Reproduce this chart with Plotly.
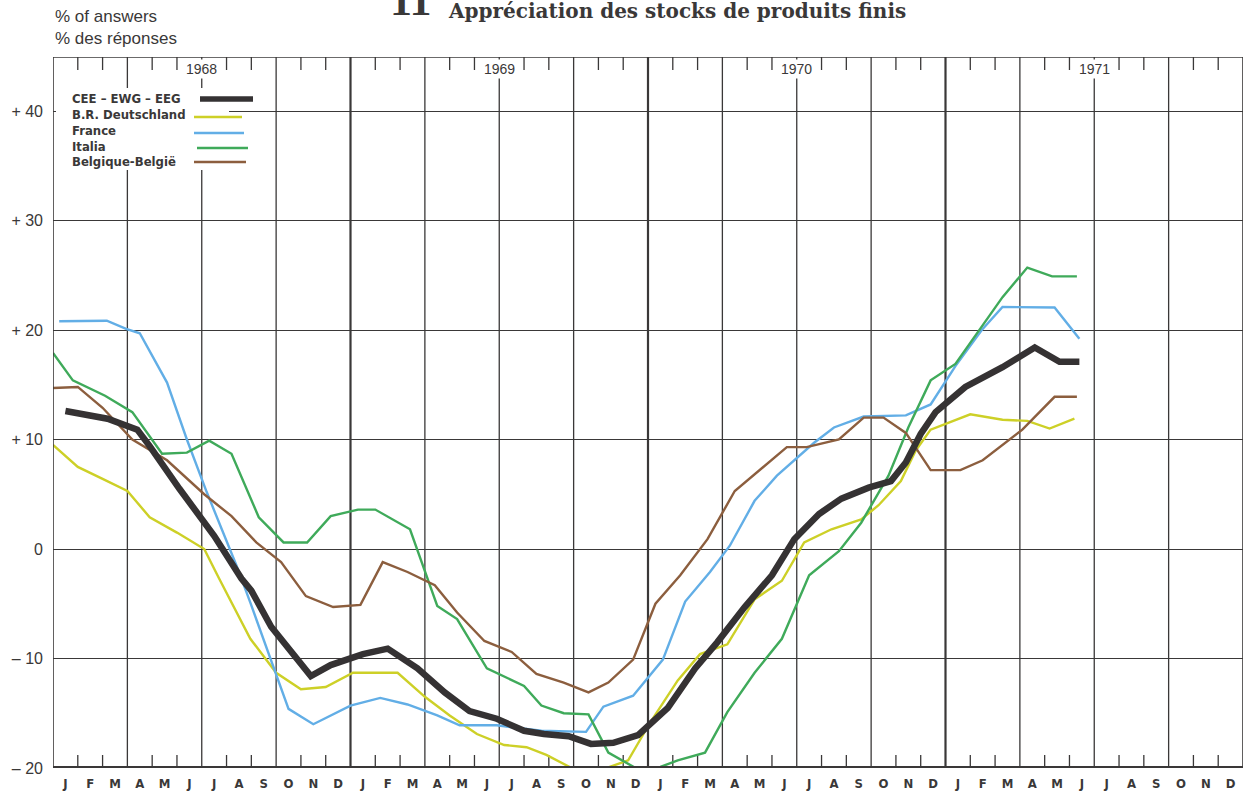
import plotly.graph_objects as go

# ---------------- data (x = months since start of Jan 1968, 0.5 = mid-January) ----------------
month_letters = ["J", "F", "M", "A", "M", "J", "J", "A", "S", "O", "N", "D"] * 4
year_labels = ["1968", "1969", "1970", "1971"]
y_ticks = [-20, -10, 0, 10, 20, 30, 40]
y_tick_text = ["\u2013 20", "\u2013 10", "0", "+ 10", "+ 20", "+ 30", "+ 40"]

series_names = ["CEE \u2013 EWG \u2013 EEG", "B.R. Deutschland", "France", "Italia", "Belgique-Belgi\u00eb"]

cee_x = [0.5, 2.2, 3.4, 3.9, 5.1, 6.5, 7.6, 8.0, 8.8, 9.6, 10.4, 11.2, 12.5, 13.5, 14.7, 15.8, 16.8,
         17.9, 19.0, 19.8, 20.8, 21.7, 22.6, 23.6, 24.8, 25.9, 26.8, 27.9, 29.0, 29.9, 30.9, 31.8,
         32.9, 33.8, 34.4, 35.0, 35.6, 36.8, 38.3, 39.6, 40.6, 41.4]
cee_y = [12.6, 11.9, 10.9, 9.4, 5.5, 1.2, -2.7, -3.8, -7.1, -9.4, -11.6, -10.6, -9.6, -9.1, -10.9,
         -13.1, -14.8, -15.5, -16.6, -16.9, -17.1, -17.8, -17.7, -17.0, -14.5, -10.9, -8.5, -5.3,
         -2.4, 0.9, 3.2, 4.6, 5.6, 6.2, 7.9, 10.5, 12.5, 14.8, 16.6, 18.4, 17.1, 17.1]

de_x = [0.0, 1.0, 2.0, 3.0, 3.9, 5.0, 6.1, 6.7, 7.96, 9.0, 10.0, 11.0, 12.1, 13.9, 15.0, 16.0, 17.1,
        18.2, 19.1, 19.9, 21.0, 22.2, 23.2, 24.1, 25.2, 26.1, 27.2, 28.3, 29.4, 30.3, 31.4, 32.6,
        33.3, 34.2, 34.8, 35.4, 37.0, 38.3, 39.3, 40.2, 41.2]
de_y = [9.5, 7.5, 6.4, 5.3, 2.9, 1.5, 0.0, -2.7, -8.2, -11.3, -12.8, -12.6, -11.3, -11.3, -13.5,
        -15.2, -16.9, -17.9, -18.1, -18.8, -20.1, -20.1, -19.3, -15.8, -12.0, -9.6, -8.7, -4.6,
        -2.9, 0.6, 1.8, 2.7, 4.0, 6.2, 9.0, 10.9, 12.3, 11.8, 11.7, 11.0, 11.9]

fr_x = [0.25, 2.17, 2.95, 3.5, 4.6, 5.4, 6.2, 7.4, 7.96, 9.5, 10.5, 12.0, 13.2, 14.3, 15.5, 16.4,
        17.9, 19.7, 21.5, 22.2, 23.4, 24.6, 25.5, 26.5, 27.3, 28.3, 29.2, 30.2, 30.7, 31.5, 32.7,
        34.4, 35.4, 36.4, 37.5, 38.3, 40.4, 41.4]
fr_y = [20.8, 20.85, 20.1, 19.7, 15.2, 10.0, 5.2, -1.5, -4.9, -14.6, -16.0, -14.3, -13.6, -14.2,
        -15.2, -16.1, -16.1, -16.6, -16.7, -14.4, -13.4, -10.1, -4.8, -2.1, 0.3, 4.4, 6.7, 8.7,
        9.7, 11.1, 12.1, 12.2, 13.2, 16.7, 20.1, 22.1, 22.05, 19.2]

it_x = [0.0, 0.8, 2.1, 3.2, 4.4, 5.4, 6.3, 7.2, 8.3, 9.3, 10.25, 11.2, 12.3, 13.0, 14.4, 15.5, 16.3,
        17.5, 19.0, 19.7, 20.6, 21.6, 22.4, 23.5, 24.5, 25.2, 26.3, 27.2, 28.3, 29.4, 30.5, 31.7,
        32.6, 33.7, 34.5, 35.4, 36.4, 38.3, 39.3, 40.3, 41.3]
it_y = [17.9, 15.4, 14.0, 12.5, 8.7, 8.8, 9.9, 8.7, 2.9, 0.6, 0.6, 3.0, 3.6, 3.6, 1.8, -5.2, -6.4,
        -10.9, -12.5, -14.3, -15.0, -15.1, -18.6, -20.0, -19.9, -19.3, -18.6, -14.9, -11.3, -8.2,
        -2.4, -0.2, 2.4, 6.7, 11.1, 15.4, 16.9, 23.0, 25.7, 24.9, 24.9]

be_x = [0.0, 1.0, 2.0, 3.2, 4.6, 6.1, 7.2, 8.2, 9.2, 10.2, 11.3, 12.4, 13.3, 14.3, 15.4, 16.3, 17.4,
        18.5, 19.5, 20.6, 21.6, 22.4, 23.4, 24.3, 25.3, 26.4, 27.5, 28.4, 29.6, 30.4, 31.7, 32.7,
        33.5, 34.4, 35.4, 36.6, 37.5, 39.1, 40.4, 41.3]
be_y = [14.7, 14.8, 12.9, 10.0, 8.1, 5.0, 3.0, 0.6, -1.2, -4.3, -5.3, -5.1, -1.2, -2.1, -3.3, -5.8,
        -8.4, -9.4, -11.4, -12.2, -13.1, -12.2, -10.1, -5.0, -2.4, 0.9, 5.3, 7.0, 9.3, 9.3, 10.0,
        12.0, 12.0, 10.6, 7.2, 7.2, 8.1, 10.9, 13.9, 13.9]

# ---------------- styling ----------------
colors = ["#353233", "#cdd027", "#62aee6", "#3faa5a", "#8c5e3e"]
widths = [6.5, 2.4, 2.4, 2.4, 2.4]
INK = "#3a3838"

W, H = 1248, 797
L, R, T, B = 53, 5, 57, 29
PX0, PX1 = L, W - R          # 53 .. 1243
NMONTH = 48
Y0, YZERO_PX, PX_PER_UNIT = -20, 549, 10.95


def px2x(px):
    return (px - PX0) / (PX1 - PX0) * NMONTH


def py2y(py):
    return (YZERO_PX - py) / PX_PER_UNIT


def px2paper(px):
    return (px - PX0) / (PX1 - PX0)


def py2paper(py):
    return (H - B - py) / (H - B - T)


YTOP = py2y(T)

fig = go.Figure()
all_x = [cee_x, de_x, fr_x, it_x, be_x]
all_y = [cee_y, de_y, fr_y, it_y, be_y]
# draw thin lines first, aggregate last
for i in [1, 2, 3, 4, 0]:
    fig.add_trace(go.Scatter(x=all_x[i], y=all_y[i], mode="lines", name=series_names[i],
                             line=dict(color=colors[i], width=widths[i], shape="linear"),
                             showlegend=False, hoverinfo="skip", cliponaxis=True))

shapes = []
# vertical quarter lines (thicker at year boundaries)
for m in range(3, NMONTH, 3):
    shapes.append(dict(type="line", xref="x", yref="y", x0=m, x1=m, y0=Y0, y1=YTOP,
                       line=dict(color=INK, width=2.2 if m % 12 == 0 else 1.3), layer="between"))
# month ticks at top and bottom
tick_len = 13 / PX_PER_UNIT
for m in range(1, NMONTH):
    if m % 3 == 0:
        continue
    shapes.append(dict(type="line", xref="x", yref="y", x0=m, x1=m, y0=YTOP, y1=YTOP - tick_len,
                       line=dict(color=INK, width=1.3), layer="between"))
    shapes.append(dict(type="line", xref="x", yref="y", x0=m, x1=m, y0=Y0, y1=Y0 + tick_len,
                       line=dict(color=INK, width=1.3), layer="between"))
# white legend box (hides grid behind legend)
shapes.append(dict(type="rect", xref="x", yref="y", x0=px2x(56), x1=px2x(229),
                   y0=py2y(170), y1=py2y(88), fillcolor="white", line=dict(width=0),
                   layer="between"))
# frame
shapes.append(dict(type="line", xref="x", yref="y", x0=0, x1=NMONTH, y0=YTOP, y1=YTOP,
                   line=dict(color=INK, width=1.6), layer="above"))
shapes.append(dict(type="line", xref="x", yref="y", x0=0, x1=0, y0=Y0, y1=YTOP,
                   line=dict(color=INK, width=1.6), layer="above"))
shapes.append(dict(type="line", xref="x", yref="y", x0=NMONTH, x1=NMONTH, y0=Y0, y1=YTOP,
                   line=dict(color=INK, width=1.6), layer="above"))
shapes.append(dict(type="line", xref="x", yref="y", x0=-0.05, x1=NMONTH + 0.05, y0=Y0, y1=Y0,
                   line=dict(color=INK, width=4), layer="above"))

# legend samples
leg_rows_py = [98, 114, 130, 146, 161]
leg_lines = [(200, 253, 99), (194, 242, 117), (194, 244, 133), (197, 248, 148), (194, 246, 162)]
annotations = []
for i in range(5):
    x0p, x1p, yp = leg_lines[i]
    shapes.append(dict(type="line", xref="x", yref="y", x0=px2x(x0p), x1=px2x(x1p),
                       y0=py2y(yp), y1=py2y(yp),
                       line=dict(color=colors[i], width=5.5 if i == 0 else 2.6), layer="above"))
    annotations.append(dict(xref="x", yref="y", x=px2x(70), y=py2y(leg_rows_py[i]),
                            text=series_names[i], showarrow=False, xanchor="left", yanchor="middle",
                            font=dict(family="Liberation Sans Narrow, DejaVu Sans Condensed, Arial Narrow, sans-serif",
                                      size=13, color=INK, weight="bold")))

# year labels
for k, yl in enumerate(year_labels):
    annotations.append(dict(xref="x", yref="y", x=6 + 12 * k, y=py2y(69), text=yl, showarrow=False,
                            xanchor="center", yanchor="middle", bgcolor="white", borderpad=1,
                            font=dict(family="Liberation Sans, Arial, sans-serif", size=14, color=INK)))

# titles
annotations.append(dict(xref="paper", yref="paper", x=px2paper(53), y=py2paper(27.5),
                        text="% of answers<br>% des r\u00e9ponses", align="left",
                        showarrow=False, xanchor="left", yanchor="middle",
                        font=dict(family="Liberation Sans, Arial, sans-serif", size=17, color=INK)))
annotations.append(dict(xref="paper", yref="paper", x=px2paper(411), y=py2paper(0), text="<b>11</b>",
                        showarrow=False, xanchor="center", yanchor="middle",
                        font=dict(family="Liberation Serif, Times New Roman, serif", size=44, color=INK)))
annotations.append(dict(xref="paper", yref="paper", x=px2paper(677), y=py2paper(11),
                        text="<b>Appr\u00e9ciation des stocks de produits finis</b>",
                        showarrow=False, xanchor="center", yanchor="middle",
                        font=dict(family="DejaVu Serif, Liberation Serif, serif", size=20, color=INK)))

fig.update_layout(
    template="none",
    width=W, height=H,
    margin=dict(l=L, r=R, t=T, b=B, pad=0, autoexpand=False),
    paper_bgcolor="white", plot_bgcolor="white",
    shapes=shapes, annotations=annotations, showlegend=False,
    xaxis=dict(range=[0, NMONTH], tickmode="array", automargin=False,
               tickvals=[i + 0.5 for i in range(NMONTH)], ticktext=month_letters,
               ticks="", showgrid=False, zeroline=False, showline=False,
               ticklabelstandoff=6,
               tickfont=dict(family="Liberation Sans Narrow, DejaVu Sans Condensed, Arial, sans-serif",
                             size=13, color=INK, weight="bold")),
    yaxis=dict(range=[Y0, YTOP], tickmode="array", tickvals=y_ticks, ticktext=y_tick_text,
               automargin=False,
               ticks="", showgrid=True, gridcolor=INK, gridwidth=1.3, zeroline=False,
               showline=False, ticklabelstandoff=9,
               tickfont=dict(family="Liberation Sans, Arial, sans-serif", size=16, color=INK)),
)

fig.write_html("out.html", config={"displayModeBar": False},
               post_script="document.body.style.margin='0px';document.body.style.overflow='hidden';")
